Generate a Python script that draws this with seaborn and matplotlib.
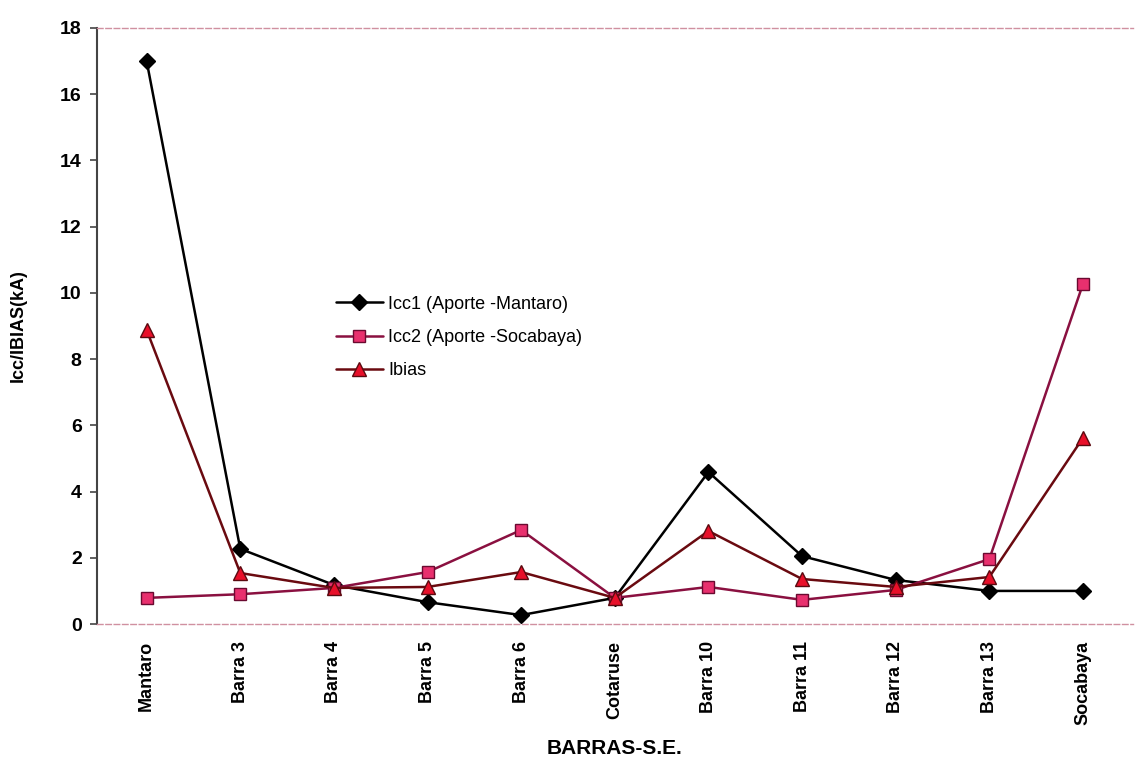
import pandas as pd
import numpy as np
import matplotlib.pyplot as plt
import seaborn as sns

sns.set_style("white")
plt.rcParams['font.family'] = ['Liberation Sans', 'DejaVu Sans']
plt.rcParams['text.color'] = 'black'
plt.rcParams['axes.labelcolor'] = 'black'
plt.rcParams['xtick.color'] = 'black'
plt.rcParams['ytick.color'] = 'black'

barras = ["Mantaro", "Barra 3", "Barra 4", "Barra 5", "Barra 6", "Cotaruse",
          "Barra 10", "Barra 11", "Barra 12", "Barra 13", "Socabaya"]
icc1 = [17.0, 2.27, 1.18, 0.66, 0.27, 0.79, 4.59, 2.05, 1.33, 1.0, 1.0]
icc2 = [0.79, 0.9, 1.09, 1.57, 2.84, 0.79, 1.12, 0.73, 1.03, 1.96, 10.27]
ibias = [8.88, 1.54, 1.09, 1.12, 1.57, 0.79, 2.81, 1.36, 1.12, 1.42, 5.62]

series = [
    ("Icc1 (Aporte -Mantaro)", icc1, "black", "D", "black", "black", 8),
    ("Icc2 (Aporte -Socabaya)", icc2, "#8a1040", "s", "#e8306e", "#6a0a30", 9),
    ("Ibias", ibias, "#6a0a10", "^", "#e8102a", "#5a0a10", 10),
]

fig = plt.figure(figsize=(11.36, 7.67), dpi=100)
ax = fig.add_axes([0.0854, 0.1864, 0.9116, 0.7771])

for nombre, vals, lc, mk, mfc, mec, ms in series:
    df = pd.DataFrame({"barra": barras, "valor": vals})
    sns.lineplot(data=df, x="barra", y="valor", sort=False, ax=ax, color=lc,
                 marker=mk, markersize=ms, markerfacecolor=mfc,
                 markeredgecolor=mec, markeredgewidth=1, linewidth=1.8,
                 label=nombre)

ax.set_xlim(-0.53, len(barras) - 0.47)
ax.set_ylim(0, 18)
ax.set_yticks(np.arange(0, 19, 2))
ax.set_xticks(range(len(barras)))
ax.set_xticklabels(barras, rotation=90, fontsize=13, fontweight='bold')
for t in ax.get_yticklabels():
    t.set_fontsize(14)
    t.set_fontweight('bold')
ax.tick_params(axis='y', which='major', left=True, length=5, width=1.2,
               color='#444444', pad=6)
ax.tick_params(axis='x', length=0, pad=12)

ax.set_ylabel("Icc/IBIAS(kA)", fontsize=13, fontweight='bold', labelpad=24)
ax.set_xlabel("BARRAS-S.E.", fontsize=15, fontweight='bold', labelpad=10)

ax.spines['left'].set_color('#444444')
ax.spines['left'].set_linewidth(1.5)
ax.spines['right'].set_visible(False)
for s in ['top', 'bottom']:
    ax.spines[s].set_color('#d090a0')
    ax.spines[s].set_linewidth(1.0)
    ax.spines[s].set_linestyle((0, (4, 2)))

leg = ax.legend(loc='upper left', bbox_to_anchor=(0.215, 0.578), frameon=False,
                fontsize=13, handlelength=2.6, labelspacing=0.9,
                handletextpad=0.3)

fig.savefig("out.png", dpi=100)
